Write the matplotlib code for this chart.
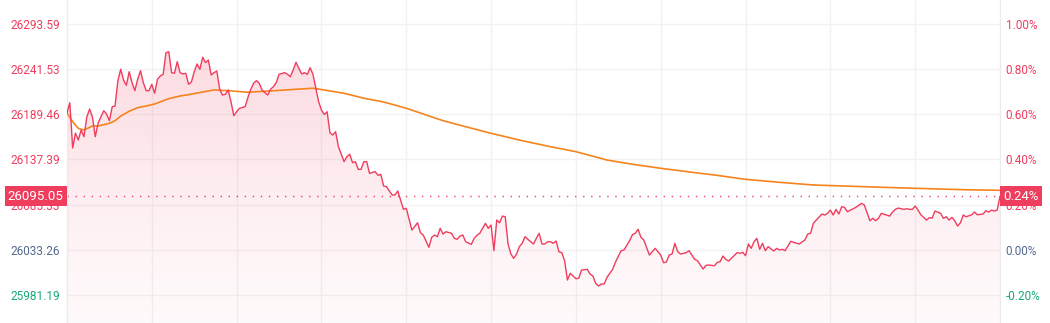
import numpy as np
import matplotlib.pyplot as plt
from matplotlib.colors import to_rgb
from matplotlib.transforms import blended_transform_factory

plt.rcParams['font.family'] = ['Roboto', 'DejaVu Sans']

# intraday index, minutes since open
minutes = [0, 1, 2, 3, 4, 5, 6, 7, 8, 9, 10, 11, 13, 14, 15, 16, 17, 18, 19, 20,
           21, 22, 23, 24, 25, 26, 27, 28, 29, 30, 31, 32, 33, 34, 35, 36, 37, 38, 39, 40,
           41, 42, 43, 44, 45, 46, 47, 48, 49, 50, 51, 52, 53, 54, 55, 56, 57, 58, 59, 60,
           61, 63, 64, 65, 66, 67, 68, 69, 70, 71, 72, 73, 74, 75, 77, 78, 79, 80, 81, 82,
           83, 84, 85, 86, 87, 88, 89, 90, 91, 92, 93, 94, 95, 96, 98, 99, 100, 101, 102, 103,
           104, 105, 106, 107, 109, 110, 111, 112, 113, 115, 116, 117, 119, 120, 122, 124, 125, 126, 128, 129,
           130, 131, 132, 133, 134, 136, 137, 138, 139, 140, 141, 143, 144, 145, 146, 148, 149, 150, 151, 152,
           153, 154, 155, 156, 157, 158, 159, 160, 161, 162, 163, 165, 166, 167, 168, 169, 170, 171, 172, 173,
           174, 175, 176, 177, 178, 179, 180, 181, 182, 184, 185, 186, 187, 188, 189, 190, 191, 193, 194, 196,
           197, 199, 200, 201, 202, 203, 204, 206, 207, 208, 209, 210, 211, 212, 213, 214, 215, 216, 217, 219,
           220, 221, 222, 223, 224, 225, 226, 227, 229, 230, 231, 232, 233, 234, 235, 237, 238, 239, 240, 241,
           242, 243, 244, 245, 246, 247, 248, 250, 251, 252, 253, 254, 256, 257, 259, 261, 262, 263, 264, 265,
           267, 268, 269, 270, 271, 272, 273, 274, 275, 276, 278, 279, 281, 282, 284, 285, 286, 287, 288, 289,
           291, 292, 293, 294, 296, 297, 298, 299, 300, 301, 302, 303, 304, 305, 306, 307, 309, 310, 311, 312,
           313, 314, 315, 316, 317, 318, 320, 321, 322, 324, 325, 326, 327, 328, 329, 330]
prices = [26190.7, 26202.6, 26150.5, 26167.7, 26159.7, 26171.2, 26163.5, 26186.1, 26195.3, 26186.1,
          26163.5, 26179.2, 26193.4, 26189.6, 26181.9, 26198.0, 26198.8, 26227.9, 26241.0, 26228.7,
          26222.6, 26238.2, 26225.6, 26216.4, 26229.5, 26239.4, 26225.6, 26216.4, 26216.4, 26223.7,
          26213.4, 26229.5, 26233.3, 26235.2, 26260.0, 26261.2, 26237.1, 26236.4, 26249.7, 26237.1,
          26235.6, 26236.4, 26223.7, 26226.4, 26238.2, 26247.1, 26241.0, 26254.8, 26248.6, 26251.6,
          26234.4, 26237.1, 26239.0, 26218.0, 26211.4, 26212.2, 26217.2, 26203.7, 26187.6, 26192.2,
          26196.1, 26198.0, 26208.8, 26218.0, 26224.9, 26227.9, 26224.9, 26217.2, 26214.1, 26211.4,
          26218.0, 26221.0, 26225.6, 26235.2, 26237.1, 26235.2, 26232.5, 26240.2, 26249.0, 26242.1,
          26235.6, 26237.1, 26235.2, 26242.8, 26235.2, 26219.2, 26203.7, 26194.2, 26189.0, 26192.2,
          26168.1, 26165.4, 26169.2, 26152.0, 26134.8, 26140.5, 26143.3, 26133.6, 26134.8, 26126.0,
          26126.0, 26134.8, 26134.8, 26121.4, 26123.3, 26119.1, 26120.3, 26106.8, 26106.0, 26096.5,
          26096.5, 26101.1, 26080.0, 26081.2, 26056.2, 26064.6, 26053.2, 26050.5, 26036.4, 26047.9,
          26050.5, 26048.6, 26058.2, 26051.7, 26054.3, 26052.5, 26046.7, 26045.6, 26049.4, 26050.5,
          26042.8, 26039.8, 26046.7, 26050.2, 26052.5, 26063.9, 26058.2, 26062.0, 26032.5, 26067.7,
          26064.6, 26072.3, 26071.5, 26040.2, 26028.7, 26023.7, 26028.7, 26037.1, 26041.0, 26048.6,
          26045.6, 26040.2, 26046.7, 26052.5, 26040.2, 26040.2, 26042.8, 26042.8, 26041.0, 26043.6,
          26031.3, 26030.2, 26021.0, 25998.8, 26006.5, 26003.4, 26000.3, 26000.8, 26010.3, 26011.1,
          26005.7, 26003.4, 25995.0, 25991.9, 25994.2, 25994.2, 26001.9, 26011.1, 26019.5, 26032.5,
          26033.3, 26044.0, 26050.9, 26052.5, 26057.1, 26047.9, 26044.8, 26027.5, 26031.3, 26035.2,
          26031.3, 26027.5, 26018.7, 26019.5, 26027.5, 26028.7, 26041.0, 26031.3, 26028.7, 26030.2,
          26032.5, 26027.5, 26022.6, 26021.0, 26016.0, 26011.4, 26015.7, 26016.0, 26015.2, 26019.1,
          26019.8, 26026.4, 26022.6, 26020.6, 26023.7, 26030.2, 26029.5, 26030.6, 26026.7, 26040.2,
          26035.2, 26042.8, 26046.7, 26034.1, 26041.0, 26032.5, 26037.1, 26032.1, 26035.2, 26033.3,
          26034.1, 26032.5, 26043.3, 26042.1, 26040.2, 26044.8, 26051.7, 26052.5, 26063.9, 26067.7,
          26074.6, 26073.5, 26075.4, 26079.2, 26073.5, 26080.0, 26074.6, 26083.0, 26082.3, 26077.3,
          26080.7, 26082.3, 26086.9, 26085.0, 26066.9, 26069.7, 26066.9, 26069.7, 26075.4, 26074.3,
          26072.3, 26076.9, 26080.0, 26081.5, 26080.0, 26080.7, 26080.0, 26080.0, 26083.8, 26079.2,
          26073.8, 26070.8, 26067.7, 26070.4, 26070.0, 26078.1, 26075.4, 26069.7, 26071.5, 26067.7,
          26070.8, 26066.9, 26060.8, 26064.6, 26073.5, 26071.5, 26073.8, 26076.9, 26073.8, 26074.6,
          26078.4, 26076.9, 26079.2, 26078.1, 26079.2, 26095.05]

# average price line
avg_minutes = [0, 2, 4, 6, 9, 11, 15, 17, 19, 22, 25, 28, 31, 36, 40, 43, 48, 52, 57, 64,
               72, 81, 87, 91, 98, 105, 112, 120, 127, 133, 141, 150, 161, 171, 180, 191, 200, 210, 224, 229,
               240, 252, 264, 288, 300, 317, 330]
avg_prices = [26190.7, 26180.7, 26173.1, 26171.2, 26175.8, 26175.8, 26178.9, 26181.9, 26187.3, 26192.7,
              26196.9, 26198.8, 26201.1, 26207.2, 26210.3, 26211.8, 26214.9, 26217.2, 26216.4, 26214.6,
              26216.1, 26218.0, 26219.2, 26217.2, 26213.4, 26207.7, 26203.4, 26196.2, 26188.5, 26181.9,
              26175.0, 26167.4, 26158.9, 26152.0, 26146.3, 26136.7, 26131.8, 26127.2, 26121.4, 26119.5,
              26114.5, 26111.1, 26108.0, 26105.4, 26104.2, 26102.6, 26101.9]

base = 26033.26
last_price = 26095.05
last_pct = 0.24
price_ticks = [25981.19, 26033.26, 26085.33, 26137.39, 26189.46, 26241.53, 26293.59]
pct_ticks = [-0.20, 0.00, 0.20, 0.40, 0.60, 0.80, 1.00]

RED = '#ef3d5e'
ORANGE = '#f5841f'
GREEN = '#17a97c'
FLAT = '#55698f'
GRID = '#f2f2f4'

ymin, ymax = 25949.4, 26320.6

fig = plt.figure(figsize=(10.5, 3.23), dpi=100)
ax = fig.add_axes([67 / 1050, 0, 933 / 1050, 1])

# gradient under the price line
grad = np.linspace(0, 1, 256).reshape(-1, 1)
rgba = np.zeros((256, 1, 4))
rgba[..., :3] = to_rgb(RED)
rgba[..., 3] = 0.03 + 0.2 * grad ** 1.3
im = ax.imshow(rgba, extent=[0, 330, ymin, ymax], origin='lower', aspect='auto', zorder=1)
poly = ax.fill_between(minutes, prices, ymin, color='none', lw=0)
im.set_clip_path(poly.get_paths()[0], transform=ax.transData)

ax.plot(avg_minutes, avg_prices, color=ORANGE, lw=1.2, zorder=3)
ax.plot(minutes, prices, color=RED, lw=1.0, zorder=4)
ax.axhline(last_price, color=RED, lw=1.0, ls=(0, (1, 4.8)), zorder=2)

ax.set_xlim(0, 330)
ax.set_ylim(ymin, ymax)
ax.set_xticks(range(0, 331, 30))
ax.set_yticks(price_ticks)
ax.set_yticklabels([f'{v:.2f}' for v in price_ticks])
for lab, v in zip(ax.get_yticklabels(), price_ticks):
    lab.set_color(RED if v > base + 0.01 else (FLAT if abs(v - base) < 0.01 else GREEN))
ax.tick_params(axis='x', length=0, labelbottom=False)
ax.tick_params(axis='y', length=0, pad=5, labelsize=8.5)
ax.grid(True, color=GRID, lw=1, zorder=0)
ax.set_axisbelow(True)
for s in ['top', 'bottom']:
    ax.spines[s].set_visible(False)
for s in ['left', 'right']:
    ax.spines[s].set_color('#ebebee')

ax2 = ax.twinx()
ax2.set_ylim((ymin / base - 1) * 100, (ymax / base - 1) * 100)
ax2.set_yticks(pct_ticks)
ax2.set_yticklabels([f'{v:.2f}%' for v in pct_ticks])
for lab, v in zip(ax2.get_yticklabels(), pct_ticks):
    lab.set_color(RED if v > 0.001 else (FLAT if abs(v) < 0.001 else GREEN))
ax2.tick_params(axis='y', length=0, pad=4, labelsize=8.5)
for s in ['top', 'bottom', 'left', 'right']:
    ax2.spines[s].set_visible(False)

# last price tags (they cover the nearby tick labels, as in the original)
box = dict(boxstyle='square,pad=0.25', fc=RED, ec='none')
tl = blended_transform_factory(ax.transAxes, ax.transData)
ax.annotate(f'{last_price:.2f}', xy=(0, last_price), xycoords=tl, xytext=(-2.3, 0),
            textcoords='offset points', ha='right', va='center', color='white',
            fontsize=9.5, bbox=box, annotation_clip=False, zorder=10)
tr = blended_transform_factory(ax2.transAxes, ax2.transData)
ax2.annotate(f'{last_pct:.2f}%', xy=(1, (last_price / base - 1) * 100), xycoords=tr,
             xytext=(2.3, 0), textcoords='offset points', ha='left', va='center', color='white',
             fontsize=9.5, bbox=box, annotation_clip=False, zorder=10)

fig.savefig('out.png', dpi=100)
